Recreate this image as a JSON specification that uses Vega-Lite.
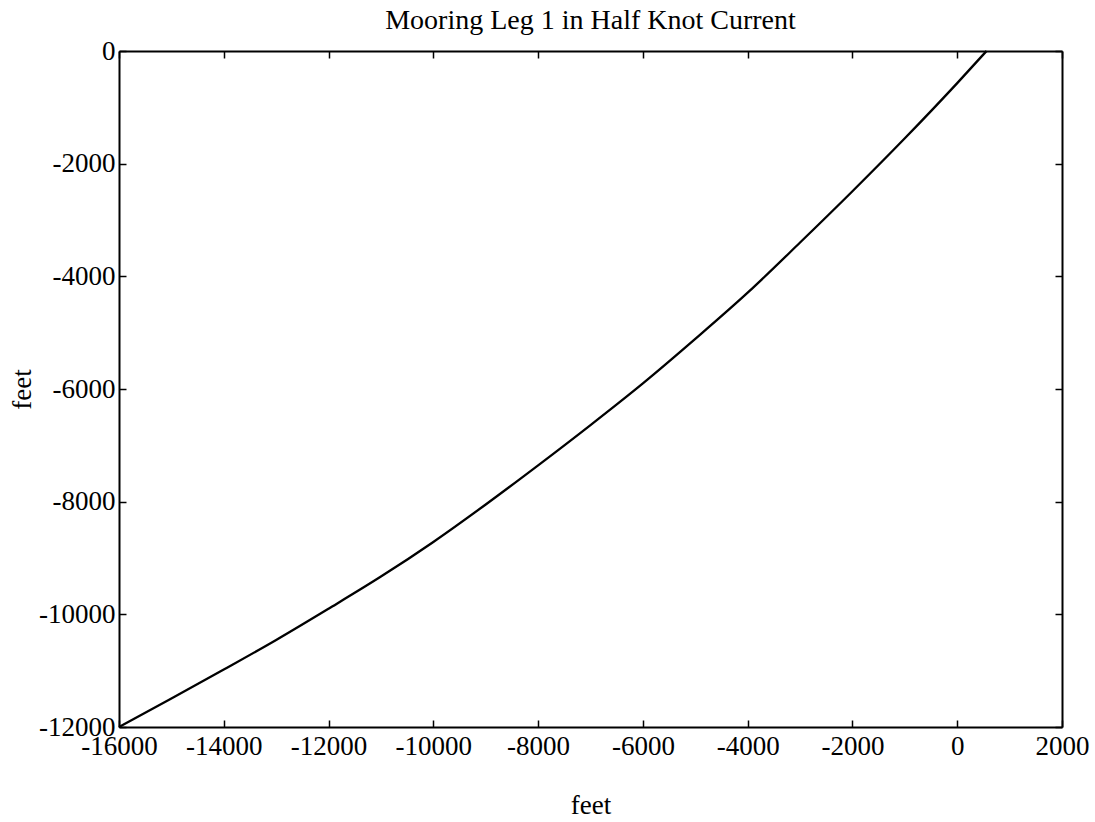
{
  "$schema": "https://vega.github.io/schema/vega-lite/v6.json",
  "width": 943,
  "height": 676,
  "autosize": {"type": "none"},
  "padding": {"left": 119, "top": 51, "right": 33, "bottom": 95},
  "title": {
    "text": "Mooring Leg 1 in Half Knot Current",
    "font": "Liberation Serif",
    "fontSize": 28,
    "fontWeight": "normal",
    "color": "black",
    "anchor": "middle",
    "offset": 2
  },
  "config": {
    "view": {"stroke": null},
    "font": "Liberation Serif",
    "axis": {
      "domainColor": "black",
      "domainWidth": 2,
      "tickColor": "black",
      "tickWidth": 1.5,
      "labelColor": "black",
      "labelFont": "Liberation Serif",
      "labelFontSize": 27,
      "titleFont": "Liberation Serif",
      "titleFontSize": 27,
      "titleFontWeight": "normal",
      "titleColor": "black",
      "grid": false,
      "labelFlush": false,
      "labelOverlap": false,
      "labelBound": false
    }
  },
  "data": {
    "values": [
      {"x": -16000, "y": -12000},
      {"x": -15000, "y": -11495},
      {"x": -14000, "y": -10980},
      {"x": -13000, "y": -10455},
      {"x": -12000, "y": -9900},
      {"x": -11000, "y": -9330},
      {"x": -10000, "y": -8715},
      {"x": -9000, "y": -8050},
      {"x": -8000, "y": -7355},
      {"x": -7000, "y": -6640},
      {"x": -6000, "y": -5900},
      {"x": -5000, "y": -5110},
      {"x": -4000, "y": -4290},
      {"x": -3000, "y": -3400},
      {"x": -2000, "y": -2490},
      {"x": -1000, "y": -1550},
      {"x": 0, "y": -570},
      {"x": 560, "y": 0}
    ]
  },
  "layer": [
    {
      "mark": {"type": "line", "color": "black", "strokeWidth": 2.3, "interpolate": "monotone"},
      "encoding": {
        "x": {
          "field": "x", "type": "quantitative",
          "scale": {"domain": [-16000, 2000], "nice": false, "zero": false},
          "axis": {
            "orient": "bottom",
            "values": [-16000, -14000, -12000, -10000, -8000, -6000, -4000, -2000, 0, 2000],
            "labelExpr": "'' + datum.value",
            "tickSize": -7,
            "labelPadding": 13,
            "title": "feet",
            "titlePadding": 33
          }
        },
        "y": {
          "field": "y", "type": "quantitative",
          "scale": {"domain": [-12000, 0], "nice": false, "zero": false},
          "axis": {
            "orient": "left",
            "values": [-12000, -10000, -8000, -6000, -4000, -2000, 0],
            "labelExpr": "'' + datum.value",
            "tickSize": -7,
            "labelPadding": 11,
            "title": "feet",
            "titlePadding": 2
          }
        }
      }
    },
    {
      "mark": {"type": "line", "opacity": 0},
      "encoding": {
        "x": {
          "field": "x", "type": "quantitative",
          "axis": {
            "orient": "top",
            "values": [-16000, -14000, -12000, -10000, -8000, -6000, -4000, -2000, 0, 2000],
            "labels": false,
            "tickSize": -7,
            "title": null
          }
        },
        "y": {
          "field": "y", "type": "quantitative",
          "axis": {
            "orient": "right",
            "values": [-12000, -10000, -8000, -6000, -4000, -2000, 0],
            "labels": false,
            "tickSize": -7,
            "title": null
          }
        }
      }
    }
  ],
  "resolve": {"axis": {"x": "independent", "y": "independent"}}
}
